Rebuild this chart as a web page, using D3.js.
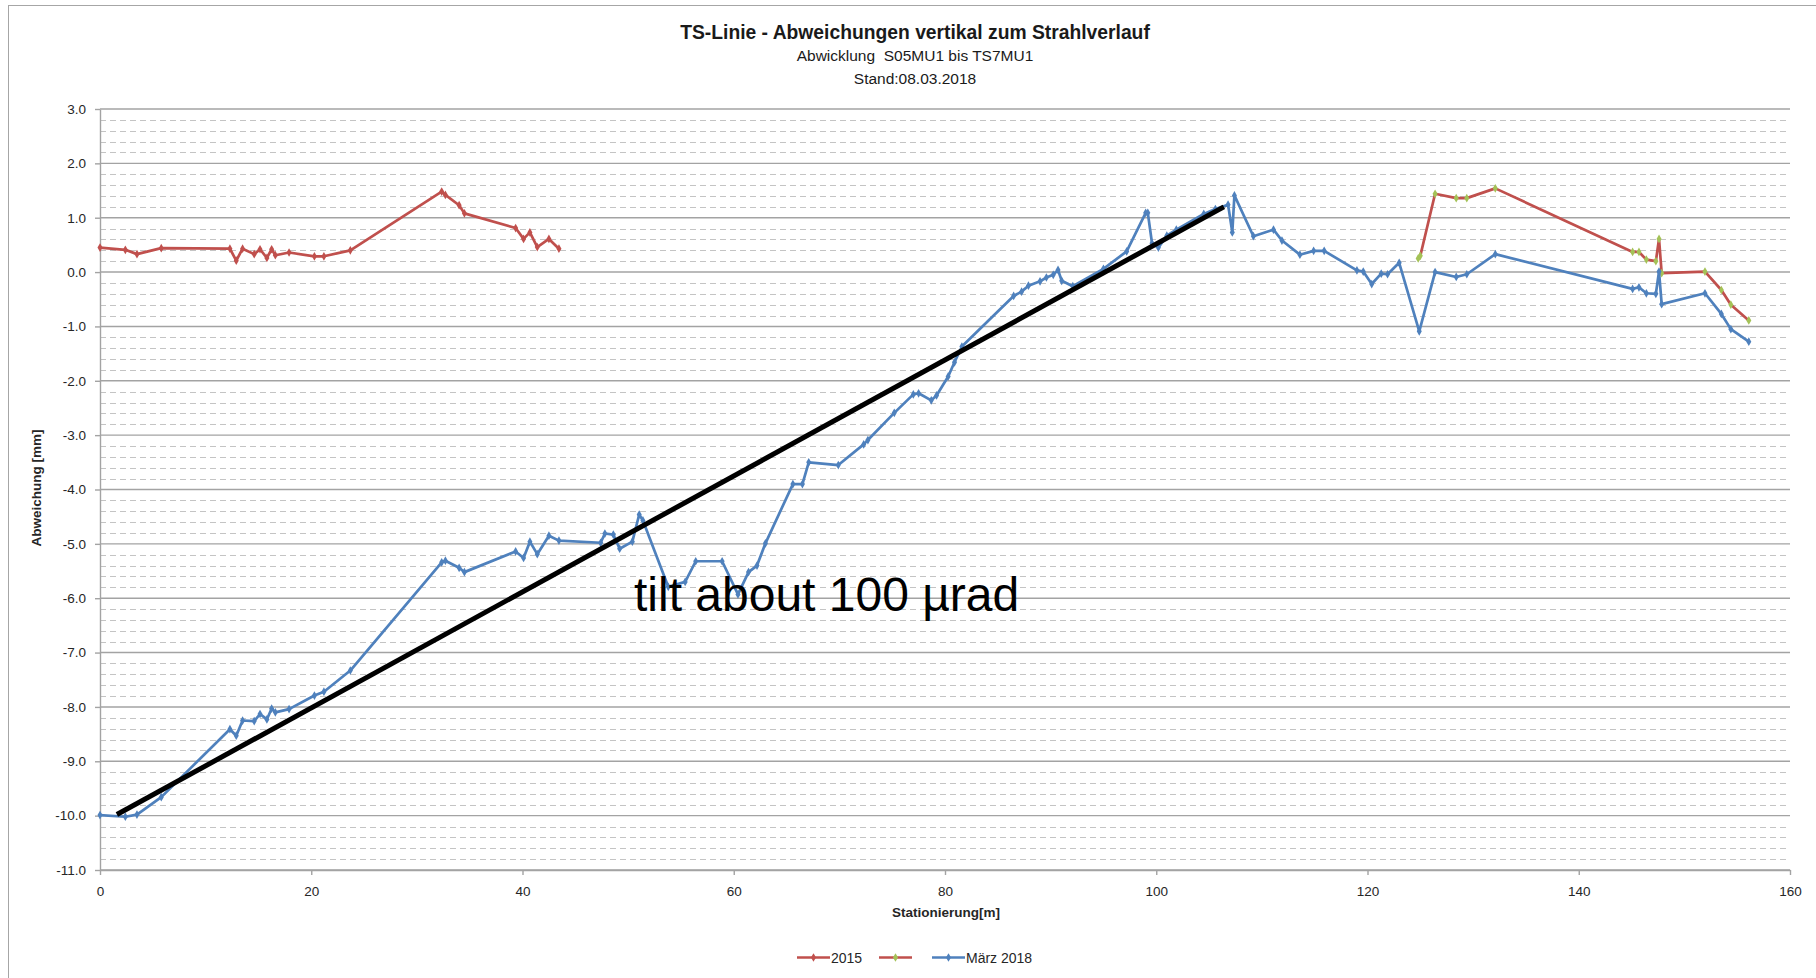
<!DOCTYPE html>
<html>
<head>
<meta charset="utf-8">
<script src="https://cdn.jsdelivr.net/npm/d3@7"></script>
<style>
  html, body { margin: 0; padding: 0; background: #fff; }
  svg { display: block; font-family: "Liberation Sans", Arial, sans-serif; }
</style>
</head>
<body>
<svg id="chart" width="1816" height="978"></svg>
<script>
// ---------- DATA ----------
const titleText = "TS-Linie - Abweichungen vertikal zum Strahlverlauf";
const subtitleText = "Abwicklung  S05MU1 bis TS7MU1";
const standText = "Stand:08.03.2018";
const xAxisTitle = "Stationierung[m]";
const yAxisTitle = "Abweichung [mm]";
const annotationText = "tilt about 100 µrad";

const xTicks = [0, 20, 40, 60, 80, 100, 120, 140, 160];
const yTicks = [3, 2, 1, 0, -1, -2, -3, -4, -5, -6, -7, -8, -9, -10, -11];

const legendLabels = ["2015", "", "März 2018"];

// 2015 (left section) – stations [m] and deviations [mm]
const stations2015 = [0, 2.4, 3.5, 5.8, 12.3, 12.9, 13.5, 14.6, 15.15, 15.8, 16.25, 16.6, 17.9, 20.3, 21.2, 23.7,
  32.35, 32.7, 34.0, 34.5, 39.35, 40.1, 40.7, 41.4, 42.5, 43.45];
const values2015 = [0.45, 0.41, 0.33, 0.44, 0.43, 0.21, 0.43, 0.33, 0.42, 0.26, 0.42, 0.31, 0.36, 0.29, 0.29, 0.40,
  1.48, 1.42, 1.23, 1.08, 0.81, 0.61, 0.73, 0.46, 0.61, 0.43];

// 2015 (right section, second series)
const stations2015b = [124.8, 125.0, 126.4, 128.4, 129.4, 132.1, 145.1, 145.7, 146.4, 147.3, 147.6, 147.85, 151.95, 153.5, 154.4, 156.1];
const values2015b = [0.25, 0.30, 1.44, 1.36, 1.36, 1.54, 0.37, 0.37, 0.23, 0.20, 0.61, -0.02, 0.01, -0.33, -0.60, -0.89];

// März 2018
const stations2018 = [0, 2.4, 3.5, 5.8, 12.3, 12.9, 13.5, 14.6, 15.15, 15.8, 16.25, 16.6, 17.9, 20.3, 21.2, 23.7,
  32.35, 32.7, 34.0, 34.5, 39.35, 40.1, 40.7, 41.4, 42.5, 43.45,
  47.4, 47.8, 48.6, 49.2, 50.4, 51.05, 51.4, 53.8, 55.4, 56.4, 58.9, 60.4, 61.4, 62.2, 63.0,
  65.6, 66.5, 67.1, 69.9, 72.3, 72.7, 75.2, 77.0, 77.5, 78.7, 79.2, 80.3, 80.9, 81.6,
  86.5, 87.25, 87.9, 89.0, 89.6, 90.25, 90.7, 91.05, 92.1, 95.0, 97.2, 99.0, 99.2, 99.6, 100.2,
  101.0, 101.9, 104.5, 105.6, 106.8, 107.2, 107.4, 109.2, 111.1, 111.9, 113.6, 114.9, 115.9,
  119.0, 119.6, 120.4, 121.3, 121.9, 123.0, 124.9, 126.4, 128.4, 129.4, 132.1,
  145.1, 145.7, 146.4, 147.3, 147.6, 147.85, 151.95, 153.5, 154.4, 156.1];
const values2018 = [-9.99, -10.02, -9.98, -9.66, -8.41, -8.53, -8.25, -8.26, -8.13, -8.23, -8.03, -8.10, -8.04, -7.79, -7.72, -7.33,
  -5.34, -5.31, -5.44, -5.52, -5.14, -5.26, -4.96, -5.19, -4.85, -4.94,
  -4.98, -4.81, -4.83, -5.09, -4.96, -4.46, -4.57, -5.79, -5.70, -5.32, -5.32, -5.93, -5.52, -5.40, -4.99,
  -3.90, -3.90, -3.50, -3.55, -3.17, -3.09, -2.59, -2.25, -2.23, -2.36, -2.27, -1.92, -1.66, -1.37,
  -0.44, -0.36, -0.25, -0.17, -0.10, -0.05, 0.04, -0.16, -0.26, 0.06, 0.38, 1.09, 1.09, 0.53, 0.45,
  0.67, 0.78, 1.07, 1.16, 1.24, 0.73, 1.41, 0.66, 0.78, 0.58, 0.32, 0.39, 0.39,
  0.03, 0.01, -0.22, -0.03, -0.04, 0.17, -1.09, 0.00, -0.09, -0.04, 0.33,
  -0.31, -0.28, -0.39, -0.40, 0.01, -0.59, -0.39, -0.77, -1.05, -1.28];

// Tilt reference line (start/end in data coords)
const tiltStations = [1.6, 106.4];
const tiltValues = [-9.98, 1.2];

// ---------- LAYOUT / STYLE ----------
const W = 1816, H = 978;
const plot = { left: 100, right: 1790, top: 109, bottom: 870 };
const colRed = "#C0504D", colBlue = "#4F81BD", colGreen = "#A4C257";
const gridMajor = "#a3a3a3", gridMinor = "#c4c4c4", textCol = "#262626";

const svg = d3.select("#chart");
svg.append("rect").attr("width", W).attr("height", H).attr("fill", "#fff");

// outer chart border (left + top)
svg.append("line").attr("x1", 8.5).attr("x2", 8.5).attr("y1", 5).attr("y2", H).attr("stroke", "#a6a6a6").attr("stroke-width", 1);
svg.append("line").attr("x1", 8).attr("x2", W).attr("y1", 5.5).attr("y2", 5.5).attr("stroke", "#a6a6a6").attr("stroke-width", 1);

const x = d3.scaleLinear().domain([0, 160]).range([plot.left, plot.right]);
const y = d3.scaleLinear().domain([-11, 3]).range([plot.bottom, plot.top]);

// minor grid (dashed, every 0.2)
const minorVals = d3.range(-110, 30, 2).map(v => v / 10).filter(v => Math.abs(v - Math.round(v)) > 1e-6);
svg.append("g").selectAll("line").data(minorVals).join("line")
  .attr("x1", plot.left).attr("x2", plot.right - 3)
  .attr("y1", d => Math.round(y(d)) + 0.5).attr("y2", d => Math.round(y(d)) + 0.5)
  .attr("stroke", gridMinor).attr("stroke-width", 1).attr("stroke-dasharray", "6,4");

// major grid
svg.append("g").selectAll("line").data(yTicks).join("line")
  .attr("x1", plot.left).attr("x2", plot.right)
  .attr("y1", d => y(d)).attr("y2", d => y(d))
  .attr("stroke", gridMajor).attr("stroke-width", 1.4);

// axes
const yAxis = d3.axisLeft(y).tickValues(yTicks).tickFormat(v => v.toFixed(1)).tickSize(5).tickSizeOuter(0).tickPadding(9);
const gy = svg.append("g").attr("transform", `translate(${plot.left},0)`).call(yAxis);
gy.selectAll("path, line").attr("stroke", gridMajor).attr("stroke-width", 1.4);
gy.selectAll("text").attr("font-size", 13.5).attr("fill", textCol).attr("font-family", "Liberation Sans, Arial, sans-serif");

const xAxis = d3.axisBottom(x).tickValues(xTicks).tickFormat(d3.format("d")).tickSize(5).tickSizeOuter(0).tickPadding(11);
const gx = svg.append("g").attr("transform", `translate(0,${plot.bottom})`).call(xAxis);
gx.selectAll("path, line").attr("stroke", gridMajor).attr("stroke-width", 1.4);
gx.selectAll("text").attr("font-size", 13.5).attr("fill", textCol).attr("font-family", "Liberation Sans, Arial, sans-serif");

// axis titles
svg.append("text").text(yAxisTitle)
  .attr("transform", `translate(41,488) rotate(-90)`)
  .attr("text-anchor", "middle").attr("font-size", 13.5).attr("font-weight", "bold").attr("fill", textCol);
svg.append("text").text(xAxisTitle)
  .attr("x", 946).attr("y", 917).attr("text-anchor", "middle")
  .attr("font-size", 13.5).attr("font-weight", "bold").attr("fill", textCol);

// titles
svg.append("text").text(titleText).attr("x", 915).attr("y", 39).attr("text-anchor", "middle")
  .attr("font-size", 19.3).attr("font-weight", "bold").attr("fill", "#1a1a1a");
svg.append("text").text(subtitleText).attr("x", 915).attr("y", 61).attr("text-anchor", "middle")
  .attr("font-size", 15.5).attr("fill", "#1a1a1a").style("white-space", "pre");
svg.append("text").text(standText).attr("x", 915).attr("y", 84).attr("text-anchor", "middle")
  .attr("font-size", 15.5).attr("fill", "#1a1a1a");

// series
const line = d3.line().x(d => x(d[0])).y(d => y(d[1]));
const diamond = d3.symbol().type(d3.symbolDiamond).size(22);

function drawSeries(xs, vs, stroke, markerFill) {
  const pts = xs.map((s, i) => [s, vs[i]]);
  const g = svg.append("g");
  g.append("path").datum(pts).attr("d", line)
    .attr("fill", "none").attr("stroke", stroke).attr("stroke-width", 2.7)
    .attr("stroke-linejoin", "round").attr("stroke-linecap", "round");
  g.selectAll("path.m").data(pts).join("path").attr("class", "m")
    .attr("d", diamond)
    .attr("transform", d => `translate(${x(d[0])},${y(d[1])})`)
    .attr("fill", markerFill).attr("stroke", "none");
}

drawSeries(stations2015, values2015, colRed, colRed);
drawSeries(stations2015b, values2015b, colRed, colGreen);
drawSeries(stations2018, values2018, colBlue, colBlue);

// tilt line annotation
const tiltPts = tiltStations.map((s, i) => [s, tiltValues[i]]);
svg.append("path").datum(tiltPts).attr("d", line)
  .attr("fill", "none").attr("stroke", "#000").attr("stroke-width", 5).attr("stroke-linecap", "butt");
svg.append("text").text(annotationText).attr("x", 634).attr("y", 611)
  .attr("font-size", 48).attr("fill", "#000").attr("font-family", "Liberation Sans, Arial, sans-serif");

// legend
const legendItems = [
  { label: legendLabels[0], stroke: colRed, fill: colRed, x0: 797 },
  { label: legendLabels[1], stroke: colRed, fill: colGreen, x0: 879 },
  { label: legendLabels[2], stroke: colBlue, fill: colBlue, x0: 932 }
];
const ly = 957.5;
const lg = svg.append("g");
legendItems.forEach(it => {
  lg.append("line").attr("x1", it.x0).attr("x2", it.x0 + 33).attr("y1", ly).attr("y2", ly)
    .attr("stroke", it.stroke).attr("stroke-width", 2.7);
  lg.append("path").attr("d", diamond).attr("transform", `translate(${it.x0 + 16.5},${ly})`)
    .attr("fill", it.fill);
  if (it.label) {
    lg.append("text").text(it.label).attr("x", it.x0 + 34).attr("y", ly + 5)
      .attr("font-size", 14).attr("fill", textCol);
  }
});
</script>
</body>
</html>
